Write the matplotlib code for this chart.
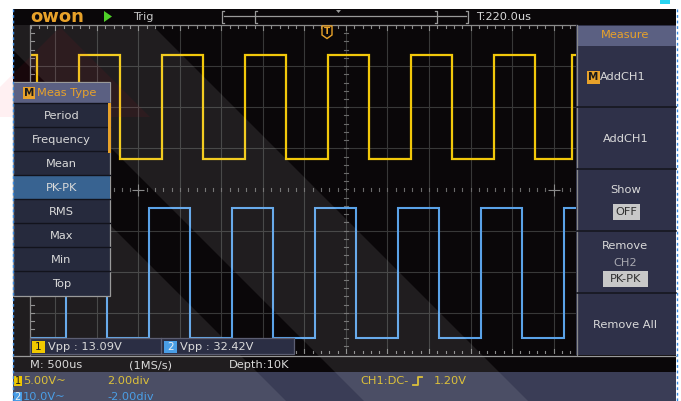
import matplotlib
matplotlib.use("Agg")
import matplotlib.pyplot as plt
from matplotlib.patches import Rectangle, Polygon
import numpy as np

# ---------------- data ----------------
time_per_div_us = 500
view_start_us = -3807
view_end_us = 2771

ch1_volts_per_div = 5.0
ch1_offset_div = 2.0
ch1_high_v = 6.3
ch1_low_v = -6.3
ch1_rise_us = [-3220, -2220, -1220, -220, 780, 1780, 2720]
ch1_fall_us = [-3720, -2720, -1720, -720, 280, 1280, 2280]

ch2_volts_per_div = 10.0
ch2_offset_div = -2.0
ch2_high_v = 15.6
ch2_low_v = -16.1
ch2_rise_us = [-3370, -2370, -1370, -370, 630, 1630, 2630]
ch2_fall_us = [-2875, -1875, -875, 125, 1125, 2125]

cursor_marks_us = [-2500, 2500]

meas_types = ["Period", "Frequency", "Mean", "PK-PK", "RMS", "Max", "Min", "Top"]
selected_meas = "PK-PK"
ch1_vpp_label = "Vpp : 13.09V"
ch2_vpp_label = "Vpp : 32.42V"
timebase_label = "M: 500us"
sample_rate_label = "(1MS/s)"
depth_label = "Depth:10K"
trig_offset_label = "T:220.0us"
ch1_scale_label = "5.00V~"
ch2_scale_label = "10.0V~"
ch1_pos_label = "2.00div"
ch2_pos_label = "-2.00div"
trig_src_label = "CH1:DC-"
trig_level_label = "1.20V"
right_menu = ["AddCH1", "AddCH1", "Show", "Remove", "Remove All"]

# ---------------- colours ----------------
BLACK = "#0a0709"
NAVY = "#2f3149"
HEADER = "#5b6082"
ITEM = "#262a3d"
SEL = "#386391"
ORANGE = "#e8a22a"
TXT = "#dadada"
YEL = "#f2c80a"
BLUE = "#5aa2e8"
BYEL = "#dcc03a"
BBLUE = "#4a9ee6"
GRIDC = "#383838"
BORDER = "#8a8a8a"
FS = 8.2

W, H = 681, 401
fig = plt.figure(figsize=(W / 100, H / 100), dpi=100)
fig.patch.set_facecolor("white")

# background / chrome axes (pixel coordinates)
bg = fig.add_axes([0, 0, 1, 1], zorder=0)
bg.set_xlim(0, W); bg.set_ylim(H, 0); bg.axis("off")
bg.add_patch(Rectangle((13, 9), 663, 392, color=BLACK, lw=0))
bg.add_patch(Rectangle((13, 372), 663, 29, color="#3a3d56", lw=0))

# ---------------- grid axes ----------------
gx0, gx1, gy0, gy1 = 30, 576, 25, 354
ax = fig.add_axes([gx0 / W, 1 - gy1 / H, (gx1 - gx0) / W, (gy1 - gy0) / H], zorder=1)
ax.set_xlim(view_start_us, view_end_us)
ax.set_ylim(-4, 4)
ax.patch.set_alpha(0)
for s in ax.spines.values():
    s.set_visible(False)
ax.set_xticks([]); ax.set_yticks([])

for t in np.arange(-3500, 2771, time_per_div_us):
    ax.axvline(t, color=GRIDC, lw=0.8, zorder=1)
for d in range(-3, 4):
    if d != 0:
        ax.axhline(d, color=GRIDC, lw=0.8, zorder=1)

px_per_us = (gx1 - gx0) / (view_end_us - view_start_us)
div_per_px = 8 / (gy1 - gy0)
for t in np.arange(-3800, 2771, 100):
    major = (t % 500 == 0)
    L = (5 if major else 3) * div_per_px
    ax.plot([t, t], [4, 4 - L], color=BORDER, lw=0.8, zorder=2)
    ax.plot([t, t], [-4, -4 + L], color=BORDER, lw=0.8, zorder=2)
    ax.plot([t, t], [-1.6 * div_per_px, 1.6 * div_per_px], color="#6a6a6a", lw=0.8, zorder=2)
for d in np.arange(-4, 4.01, 0.2):
    L = 4 / px_per_us
    ax.plot([view_start_us, view_start_us + L], [d, d], color=BORDER, lw=0.8, zorder=2)
    ax.plot([-2 / px_per_us, 2 / px_per_us], [d, d], color="#6a6a6a", lw=0.8, zorder=2)
ax.plot(cursor_marks_us, [0] * len(cursor_marks_us), ls="none", marker="+", ms=9, mew=0.8,
        color="#8a8a8a", zorder=2)


def square(rises, falls, hi, lo, start, end):
    edges = sorted([(t, hi) for t in rises] + [(t, lo) for t in falls])
    inside = [e for e in edges if start < e[0] < end]
    before = [e for e in edges if e[0] <= start]
    level = before[-1][1] if before else (lo if inside[0][1] == hi else hi)
    xs, ys = [start], [level]
    for t, l in inside:
        xs += [t, t]; ys += [level, l]; level = l
    xs.append(end); ys.append(level)
    return np.array(xs), np.array(ys)


x1, v1 = square(ch1_rise_us, ch1_fall_us, ch1_high_v, ch1_low_v, view_start_us, view_end_us)
x2, v2 = square(ch2_rise_us, ch2_fall_us, ch2_high_v, ch2_low_v, view_start_us, view_end_us)
ax.plot(x1, v1 / ch1_volts_per_div + ch1_offset_div, color=YEL, lw=1.6, zorder=5, solid_joinstyle="miter")
ax.plot(x2, v2 / ch2_volts_per_div + ch2_offset_div, color=BLUE, lw=1.5, zorder=5, solid_joinstyle="miter")

# ---------------- UI overlay axes ----------------
ui = fig.add_axes([0, 0, 1, 1], zorder=2)
ui.set_xlim(0, W); ui.set_ylim(H, 0); ui.axis("off")
ui.patch.set_alpha(0)

ZW, ZB, ZP, ZL, ZT = 1.0, 1.2, 2.0, 2.5, 3.0

# watermark overlays (under the menus)
ui.add_patch(Polygon([(13, 25), (152, 25), (528, 401), (364, 401), (13, 50)],
                     color="white", alpha=0.09, lw=0, zorder=ZW))
ui.add_patch(Polygon([(13, 128), (286, 401), (13, 401)], color="white", alpha=0.09, lw=0, zorder=ZW))
ui.add_patch(Polygon([(60, 27), (150, 117), (-30, 117)], color="#ff1030", alpha=0.06, lw=0, zorder=ZW))

# grid border
ui.plot([30, 30, 576], [355, 25, 25], color=BORDER, lw=0.9, zorder=ZB)
ui.plot([13, 676], [355.5, 355.5], color="#9a9a9a", lw=0.9, zorder=ZB)

# top bar
ui.text(30, 16.5, "owon", color=ORANGE, fontsize=13, fontweight="bold", va="center", ha="left", zorder=ZT)
ui.add_patch(Polygon([(104, 11), (104, 22), (112, 16.5)], color="#4fd028", lw=0, zorder=ZP))
ui.text(133, 16.5, "Trig", color="#c8c8c8", fontsize=FS, va="center", ha="left", zorder=ZT)
for xa, xb in [(222, 468), (255, 437)]:
    ui.plot([xa + 2, xa, xa, xa + 2], [11, 11, 23, 23], color="#9a9a9a", lw=0.9, zorder=ZL)
    ui.plot([xb - 2, xb, xb, xb - 2], [11, 11, 23, 23], color="#9a9a9a", lw=0.9, zorder=ZL)
ui.plot([224, 466], [16, 16], color="#9a9a9a", lw=0.9, zorder=ZL)
ui.add_patch(Polygon([(336, 10), (341, 10), (338.5, 13)], color="#9a9a9a", lw=0, zorder=ZP))
ui.text(476, 16.5, trig_offset_label, color=TXT, fontsize=FS, va="center", ha="left", zorder=ZT)

# trigger marker
ui.add_patch(Polygon([(322, 26), (332, 26), (332, 35), (327, 38.5), (322, 35)],
                     facecolor=BLACK, edgecolor=ORANGE, lw=1, zorder=ZP))
ui.text(327, 31, "T", color=ORANGE, fontsize=6.5, fontweight="bold", va="center", ha="center", zorder=ZT)

# right panel
ui.add_patch(Rectangle((576, 25), 100, 330, color=NAVY, lw=0, zorder=ZP))
ui.plot([576.5, 576.5], [25, 355], color="#8a8a8a", lw=0.9, zorder=ZL)
ui.add_patch(Rectangle((577, 26), 99, 20, color=HEADER, lw=0, zorder=ZP))
ui.text(625, 35.5, "Measure", color=ORANGE, fontsize=FS, va="center", ha="center", zorder=ZT)
for ys in [107.3, 169.3, 231, 293.3]:
    ui.plot([577, 676], [ys, ys], color="#16171f", lw=1.2, zorder=ZL)
ui.add_patch(Rectangle((587, 70.5), 12.5, 13, color=ORANGE, lw=0, zorder=ZL))
ui.text(593.2, 77.5, "M", color="#1a1a1a", fontsize=7.5, fontweight="bold", va="center", ha="center", zorder=ZT)
ui.text(600, 77, right_menu[0], color=TXT, fontsize=FS, va="center", ha="left", zorder=ZT)
ui.text(626, 138.5, right_menu[1], color=TXT, fontsize=FS, va="center", ha="center", zorder=ZT)
ui.text(626, 190, right_menu[2], color=TXT, fontsize=FS, va="center", ha="center", zorder=ZT)
ui.add_patch(Rectangle((613, 204), 27, 16, color="#c8c8c8", lw=0, zorder=ZL))
ui.text(626.5, 212.3, "OFF", color="#303030", fontsize=FS, va="center", ha="center", zorder=ZT)
ui.text(625, 246, right_menu[3], color=TXT, fontsize=FS, va="center", ha="center", zorder=ZT)
ui.text(625, 263, "CH2", color="#a8a8b0", fontsize=FS, va="center", ha="center", zorder=ZT)
ui.add_patch(Rectangle((603, 271), 45, 16, color="#c8c8c8", lw=0, zorder=ZL))
ui.text(625.5, 279.3, "PK-PK", color="#303030", fontsize=FS, va="center", ha="center", zorder=ZT)
ui.text(625, 324.5, right_menu[4], color=TXT, fontsize=FS, va="center", ha="center", zorder=ZT)

# left menu
ui.add_patch(Rectangle((13, 82), 97, 214, facecolor=ITEM, edgecolor="#9a9a9a", lw=0.9, zorder=ZP))
ui.add_patch(Rectangle((13.5, 82.5), 96, 20.8, color=HEADER, lw=0, zorder=ZP))
ui.add_patch(Rectangle((22.5, 87.3), 12.5, 11.5, color=ORANGE, lw=0, zorder=ZL))
ui.text(28.8, 93.2, "M", color="#1a1a1a", fontsize=7.5, fontweight="bold", va="center", ha="center", zorder=ZT)
ui.text(37, 93, "Meas Type", color=ORANGE, fontsize=FS, va="center", ha="left", zorder=ZT)
item_h = 24.0
for i, name in enumerate(meas_types):
    top = 103.3 + i * item_h
    if name == selected_meas:
        ui.add_patch(Rectangle((13.5, top), 96, item_h, color=SEL, lw=0, zorder=ZP))
    ui.plot([13.5, 109.5], [top, top], color="#12131c", lw=1.0, zorder=ZL)
    ui.text(61.5, top + item_h / 2 + 0.5, name, color=TXT, fontsize=FS, va="center", ha="center", zorder=ZT)
ui.add_patch(Rectangle((107.5, 103.3), 3.5, 50, color=ORANGE, lw=0, zorder=ZL))

# measurement readout box
ui.add_patch(Rectangle((29.5, 338.3), 264, 16, facecolor="#2b2e44", edgecolor="#5c5e72", lw=0.9, zorder=ZP))
ui.plot([161, 161], [338.3, 354.3], color="#5c5e72", lw=0.9, zorder=ZL)
ui.add_patch(Rectangle((32, 340.7), 12.5, 12, color="#f0c800", lw=0, zorder=ZL))
ui.text(38.2, 347, "1", color="#1a1a1a", fontsize=7.5, va="center", ha="center", zorder=ZT)
ui.text(48, 346.7, ch1_vpp_label, color=TXT, fontsize=FS, va="center", ha="left", zorder=ZT)
ui.add_patch(Rectangle((164, 340.7), 12.5, 12, color="#4a9ee6", lw=0, zorder=ZL))
ui.text(170.2, 347, "2", color="#f0f0f0", fontsize=7.5, va="center", ha="center", zorder=ZT)
ui.text(180, 346.7, ch2_vpp_label, color=TXT, fontsize=FS, va="center", ha="left", zorder=ZT)

# status line
ui.text(29.5, 365.5, timebase_label, color=TXT, fontsize=FS, va="center", ha="left", zorder=ZT)
ui.text(128.5, 365.5, sample_rate_label, color=TXT, fontsize=FS, va="center", ha="left", zorder=ZT)
ui.text(229, 365.5, depth_label, color=TXT, fontsize=FS, va="center", ha="left", zorder=ZT)

# bottom channel info
ui.add_patch(Rectangle((14, 375.5), 7.5, 10, color="#f0c800", lw=0, zorder=ZL))
ui.text(17.8, 380.8, "1", color="#1a1a1a", fontsize=7, va="center", ha="center", zorder=ZT)
ui.text(23, 380.5, ch1_scale_label, color=BYEL, fontsize=FS, va="center", ha="left", zorder=ZT)
ui.text(107, 380.5, ch1_pos_label, color=BYEL, fontsize=FS, va="center", ha="left", zorder=ZT)
ui.add_patch(Rectangle((14, 392), 7.5, 10, color="#4a9ee6", lw=0, zorder=ZL))
ui.text(17.8, 397.3, "2", color="#f0f0f0", fontsize=7, va="center", ha="center", zorder=ZT)
ui.text(23, 397, ch2_scale_label, color=BBLUE, fontsize=FS, va="center", ha="left", zorder=ZT)
ui.text(107, 397, ch2_pos_label, color=BBLUE, fontsize=FS, va="center", ha="left", zorder=ZT)
ui.text(360.5, 380.7, trig_src_label, color=BYEL, fontsize=FS, va="center", ha="left", zorder=ZT)
ui.plot([413, 417.5, 417.5, 422], [385, 385, 376.5, 376.5], color=BYEL, lw=1.3, zorder=ZT)
ui.text(434, 380.7, trig_level_label, color=BYEL, fontsize=FS, va="center", ha="left", zorder=ZT)

# selection dashed borders
ui.plot([12.8, 12.8], [9, 401], color="#3a8ae0", lw=1.0, ls=(0, (2, 2)), zorder=ZT)
ui.plot([676.5, 676.5], [9, 401], color="#3a8ae0", lw=1.0, ls=(0, (2, 2)), zorder=ZT)
ui.add_patch(Rectangle((660, 0), 10, 4, color="#29d3f0", lw=0, zorder=ZT))

fig.savefig("out.png", dpi=100, facecolor=fig.get_facecolor())
